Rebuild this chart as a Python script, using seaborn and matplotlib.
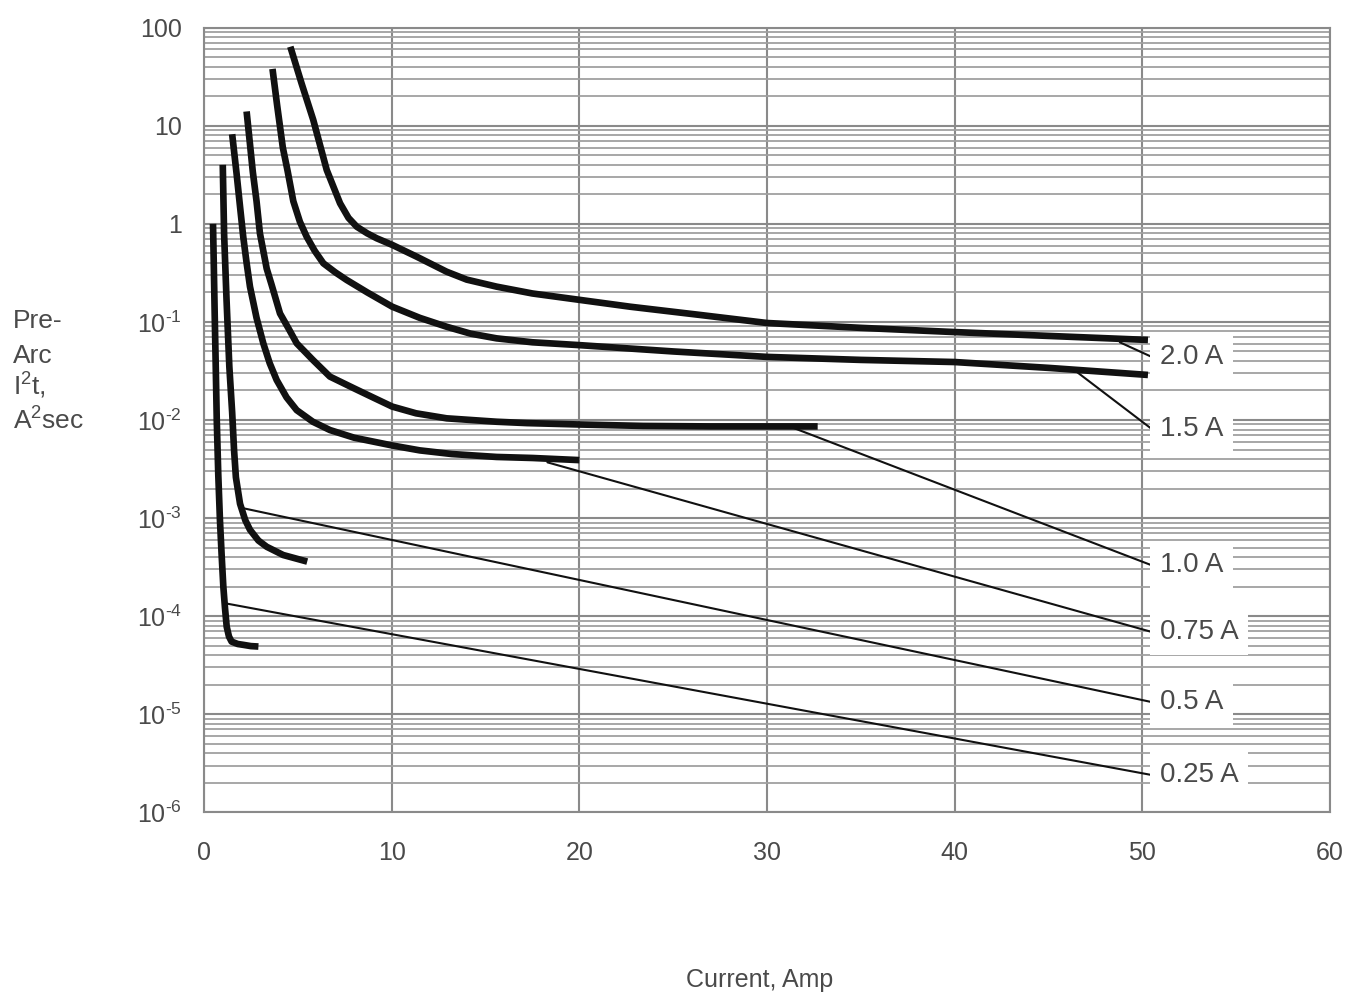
import numpy as np
import pandas as pd
import matplotlib
matplotlib.use("Agg")
import matplotlib.pyplot as plt
from matplotlib.ticker import LogLocator, NullFormatter, FixedLocator
import seaborn as sns

# Fuse ratings and their pre-arc I2t curves (current in A, I2t in A^2 s)
ratings = ["2.0 A", "1.5 A", "1.0 A", "0.75 A", "0.5 A", "0.25 A"]

amp_20 = [4.6, 5.2, 5.82, 6.54, 7.25, 7.7, 8.14, 8.7, 9.2, 10.03, 11.33, 12.93,
          14.0, 15.59, 17.5, 20.0, 22.7, 26.4, 30.0, 35.0, 40.0, 45.0, 50.3]
i2t_20 = [64, 27, 11.5, 3.54, 1.62, 1.15, 0.935, 0.8, 0.713, 0.61, 0.463,
          0.325, 0.27, 0.229, 0.195, 0.168, 0.143, 0.118, 0.0975, 0.087,
          0.0788, 0.072, 0.0655]

amp_15 = [3.65, 3.9, 4.2, 4.45, 4.76, 5.11, 5.47, 5.9, 6.36, 7.0, 7.6, 8.7,
          10.03, 11.5, 12.93, 14.2, 15.59, 17.5, 20.0, 25.0, 30.0, 35.0, 40.0,
          45.0, 50.3]
i2t_15 = [38, 16, 6.0, 3.5, 1.7, 1.05, 0.74, 0.53, 0.396, 0.32, 0.268, 0.2,
          0.143, 0.11, 0.0893, 0.076, 0.068, 0.062, 0.058, 0.050, 0.044, 0.041,
          0.039, 0.034, 0.0288]

amp_10 = [2.27, 2.45, 2.6, 2.8, 2.98, 3.16, 3.34, 3.6, 4.05, 4.5, 4.94, 5.8,
          6.71, 8.0, 9.0, 10.03, 11.3, 12.93, 15.59, 17.2, 20.0, 23.4, 27.0,
          32.7]
i2t_10 = [14, 6.5, 3.4, 1.7, 0.8, 0.53, 0.35, 0.24, 0.122, 0.086, 0.0605,
          0.041, 0.0277, 0.021, 0.017, 0.0137, 0.0117, 0.0104, 0.0096, 0.0093,
          0.0090, 0.0087, 0.0086, 0.0086]

amp_075 = [1.5, 1.74, 1.92, 2.09, 2.27, 2.45, 2.8, 3.16, 3.5, 3.87, 4.4, 4.94,
           5.8, 6.71, 8.0, 10.03, 11.5, 13.2, 15.59, 17.5, 20.0]
i2t_075 = [8.2, 3.2, 1.5, 0.74, 0.4, 0.229, 0.11, 0.0605, 0.038, 0.0256, 0.017,
           0.0126, 0.0096, 0.0079, 0.0066, 0.0055, 0.0049, 0.0045, 0.0042,
           0.0041, 0.0039]

amp_05 = [1.0, 1.07, 1.2, 1.35, 1.5, 1.6, 1.7, 1.92, 2.2, 2.45, 2.9, 3.34, 4.22,
          5.5]
i2t_05 = [4.0, 0.8, 0.17, 0.035, 0.012, 5e-3, 2.6e-3, 1.4e-3, 9.5e-4, 7.6e-4,
          5.9e-4, 5.1e-4, 4.2e-4, 3.6e-4]

amp_025 = [0.48, 0.52, 0.57, 0.62, 0.68, 0.76, 0.85, 0.94, 1.03, 1.12, 1.21,
           1.33, 1.47, 1.8, 2.09, 2.5, 2.9]
i2t_025 = [1.0, 0.4, 0.12, 0.04, 0.01, 2.8e-3, 9.5e-4, 4.2e-4, 2e-4, 1.2e-4,
           7.8e-5, 6.2e-5, 5.5e-5, 5.2e-5, 5.1e-5, 4.95e-5, 4.9e-5]

# Leader lines from each curve to its rating label
leader_amp = [48.8, 46.5, 31.2, 18.3, 2.09, 1.15]
leader_i2t = [0.062, 0.031, 0.0086, 0.0037, 1.26e-3, 1.35e-4]
label_i2t = [0.044, 0.0081, 3.3e-4, 6.9e-5, 1.33e-5, 2.4e-6]
leader_end_amp = 50.5
label_amp = 50.93

x_ticks = [0, 10, 20, 30, 40, 50, 60]
y_ticks = [1e-6, 1e-5, 1e-4, 1e-3, 1e-2, 1e-1, 1, 10, 100]
y_tick_labels = [r"$\mathregular{10^{\text{-}6}}$", r"$\mathregular{10^{\text{-}5}}$",
                 r"$\mathregular{10^{\text{-}4}}$", r"$\mathregular{10^{\text{-}3}}$",
                 r"$\mathregular{10^{\text{-}2}}$", r"$\mathregular{10^{\text{-}1}}$",
                 "1", "10", "100"]

curves = {
    "2.0 A": (amp_20, i2t_20),
    "1.5 A": (amp_15, i2t_15),
    "1.0 A": (amp_10, i2t_10),
    "0.75 A": (amp_075, i2t_075),
    "0.5 A": (amp_05, i2t_05),
    "0.25 A": (amp_025, i2t_025),
}
df = pd.concat(
    [pd.DataFrame({"current": a, "i2t": v, "rating": r})
     for r, (a, v) in curves.items()],
    ignore_index=True,
)

sns.set_theme(style="white")
plt.rcParams["font.family"] = ["Liberation Sans", "DejaVu Sans"]
plt.rcParams["mathtext.fontset"] = "custom"
plt.rcParams["mathtext.rm"] = "Liberation Sans"
plt.rcParams["mathtext.it"] = "Liberation Sans:italic"
plt.rcParams["mathtext.bf"] = "Liberation Sans:bold"

text_col = "#4a4a4a"
grid_col = "#a0a0a0"

W, H = 1347, 997
fig = plt.figure(figsize=(W / 100, H / 100), dpi=100)
ax = fig.add_axes([204 / W, 1 - 812.3 / H, (1330 - 204) / W, (812.3 - 27.7) / H])

ax.set_yscale("log")
ax.set_xlim(0, 60)
ax.set_ylim(1e-6, 100)

ax.xaxis.set_major_locator(FixedLocator(x_ticks))
ax.yaxis.set_major_locator(FixedLocator(y_ticks))
ax.yaxis.set_minor_locator(LogLocator(base=10, subs=np.arange(2, 10), numticks=20))
ax.yaxis.set_minor_formatter(NullFormatter())
ax.set_yticklabels(y_tick_labels)
ax.set_xticklabels([str(t) for t in x_ticks])

ax.grid(which="major", axis="x", color="#8a8a8a", lw=1.5, zorder=0)
ax.grid(which="major", axis="y", color="#8a8a8a", lw=1.5, zorder=0)
ax.grid(which="minor", axis="y", color=grid_col, lw=1.3, zorder=0)
ax.set_axisbelow(True)

for s in ax.spines.values():
    s.set_color("#8a8a8a")
    s.set_linewidth(1.5)

ax.tick_params(axis="x", which="major", direction="out", length=7, width=1.2,
               color="#8a8a8a", pad=14, labelsize=18, labelcolor=text_col)
ax.tick_params(axis="y", which="major", direction="out", length=3, width=1.2,
               color="#8a8a8a", pad=13, labelsize=18, labelcolor=text_col)
ax.tick_params(axis="y", which="minor", length=0)

sns.lineplot(data=df, x="current", y="i2t", hue="rating", units="rating",
             estimator=None, sort=False, palette={r: "#111111" for r in ratings},
             lw=4.8, legend=False, ax=ax, zorder=3,
             solid_joinstyle="round", solid_capstyle="butt")

for r, sx, sy, ly in zip(ratings, leader_amp, leader_i2t, label_i2t):
    ax.plot([sx, leader_end_amp], [sy, ly], color="#111111", lw=1.5, zorder=3)
    ax.text(label_amp, ly, r, ha="left", va="center", fontsize=20,
            color=text_col, zorder=5,
            bbox=dict(boxstyle="square,pad=0.35", fc="white", ec="none"))

ax.set_xlabel("")
ax.set_ylabel("")
fig.text(760 / W, 1 - 980 / H, "Current, Amp", ha="center", va="center",
         fontsize=18, color=text_col)

ylab_lines = ["Pre-", "Arc", r"$\mathregular{I^2t,}$", r"$\mathregular{A^2sec}$"]
ylab_base = [328, 363, 395, 430]
for txt, yb in zip(ylab_lines, ylab_base):
    fig.text(13 / W, 1 - yb / H, txt, ha="left", va="baseline", fontsize=19,
             color=text_col)

fig.savefig("out.png", dpi=100, facecolor="white")
